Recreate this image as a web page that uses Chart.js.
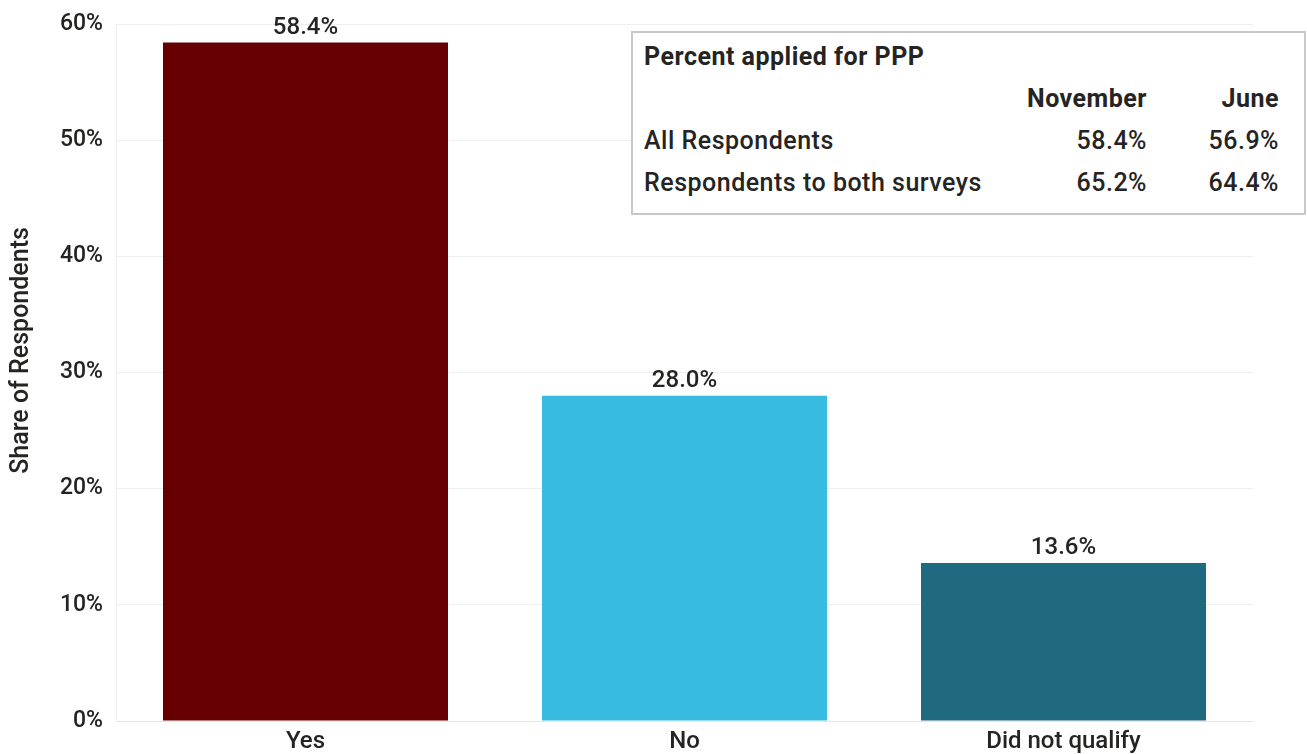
<!DOCTYPE html>
<html>
<head>
<meta charset="utf-8">
<script src="https://cdn.jsdelivr.net/npm/chart.js@4"></script>
<style>
  html, body { margin: 0; padding: 0; background: #fff; }
  #wrap { position: relative; width: 1307px; height: 754px; }
  #ppp {
    position: absolute; left: 631px; top: 31px; width: 671px; height: 177px;
    border: 2px solid #c8c8c8; background: #fff;
    font-family: Roboto, sans-serif; font-size: 25px; letter-spacing: 0.5px; color: #252423;
    padding-top: 3px; box-sizing: content-box;
  }
  #ppp .row { display: flex; height: 42px; line-height: 42px; }
  #ppp .lab { flex: 1; padding-left: 11px; font-weight: 500; }
  #ppp .v1 { width: 132px; text-align: right; font-weight: 500; }
  #ppp .v2 { width: 132px; text-align: right; padding-right: 25px; font-weight: 500; }
  #ppp .head { font-weight: 700; }
</style>
</head>
<body>
<div id="wrap">
  <canvas id="chart" width="1307" height="754"></canvas>
  <div id="ppp"></div>
</div>
<script>
// -----------------------------
// Data
// -----------------------------
const categories = ["Yes", "No", "Did not qualify"]
const shares = [58.4, 28.0, 13.6]
const barColors = ["#660000", "#37BBE1", "#1F6A80"]
const yTicks = [0, 10, 20, 30, 40, 50, 60]
const yTitle = "Share of Respondents"

const tableTitle = "Percent applied for PPP"
const tableCols = ["November", "June"]
const tableRows = ["All Respondents", "Respondents to both surveys"]
const tableNovember = ["58.4%", "65.2%"]
const tableJune = ["56.9%", "64.4%"]

const FONT = "Roboto, sans-serif"
const TEXT = "#252423"

// -----------------------------
// Inset table
// -----------------------------
function renderTable() {
  const box = document.getElementById("ppp")
  let html = `<div class="row"><span class="lab head">${tableTitle}</span></div>`
  html += `<div class="row"><span class="lab"></span><span class="v1 head">${tableCols[0]}</span><span class="v2 head">${tableCols[1]}</span></div>`
  tableRows.forEach((r, i) => {
    html += `<div class="row"><span class="lab">${r}</span><span class="v1">${tableNovember[i]}</span><span class="v2">${tableJune[i]}</span></div>`
  })
  box.innerHTML = html
}

// -----------------------------
// Value labels above bars + y title
// -----------------------------
const valueLabels = {
  id: "valueLabels",
  afterDatasetsDraw(chart) {
    const ctx = chart.ctx
    const meta = chart.getDatasetMeta(0)
    ctx.save()
    ctx.font = `500 24px ${FONT}`
    ctx.fillStyle = TEXT
    ctx.textAlign = "center"
    ctx.textBaseline = "bottom"
    meta.data.forEach((bar, i) => {
      ctx.fillText(shares[i].toFixed(1) + "%", bar.x, bar.y - 3)
    })

    // axis title sits a bit above the plot's middle in the original
    const area = chart.chartArea
    ctx.translate(22, (area.top + area.bottom) / 2 - 22)
    ctx.rotate(-Math.PI / 2)
    ctx.font = `500 25px ${FONT}`
    ctx.textBaseline = "middle"
    ctx.fillText(yTitle, 0, 0)
    ctx.restore()
  }
}

// -----------------------------
// Chart
// -----------------------------
function renderChart() {
  new Chart(document.getElementById("chart"), {
    type: "bar",
    data: {
      labels: categories,
      datasets: [{
        data: shares,
        backgroundColor: barColors,
        barPercentage: 0.752,
        categoryPercentage: 1
      }]
    },
    options: {
      responsive: false,
      animation: false,
      layout: { padding: { top: 24, right: 54, left: 0, bottom: 0 } },
      plugins: {
        legend: { display: false },
        tooltip: { enabled: false }
      },
      scales: {
        x: {
          grid: { display: false, drawTicks: false },
          border: { display: true, color: "#e6e6e6" },
          ticks: { color: TEXT, font: { family: FONT, size: 24, weight: 500 }, padding: 7 },
          afterFit(scale) { scale.height = 33 }
        },
        y: {
          min: 0,
          max: 60,
          afterBuildTicks(scale) { scale.ticks = yTicks.map(v => ({ value: v })) },
          grid: { color: "#eeeeee", drawTicks: false },
          border: { display: true, color: "#eeeeee" },
          ticks: {
            color: TEXT,
            font: { family: FONT, size: 23, weight: 500 },
            padding: 13,
            callback: v => v + "%"
          },
          afterFit(scale) {
            scale.width = 116
            scale.paddingTop = 0
            scale.paddingBottom = 0
          }
        }
      }
    },
    plugins: [valueLabels]
  })
}

renderTable()
renderChart()
</script>
</body>
</html>
